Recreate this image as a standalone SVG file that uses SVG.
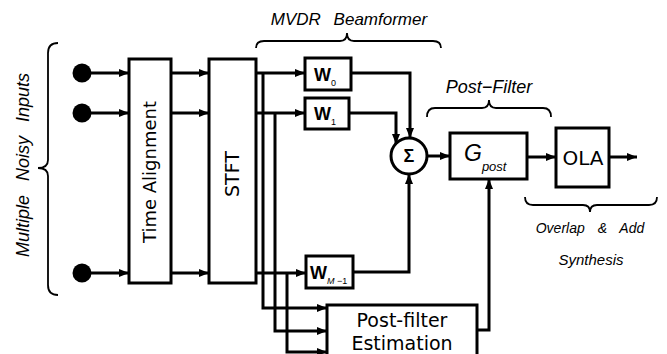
<svg xmlns="http://www.w3.org/2000/svg" width="667" height="354" viewBox="0 0 667 354">
<style>
.box{fill:#fff;stroke:#000;stroke-width:3}
.ln{fill:none;stroke:#000;stroke-width:3}
.br{fill:none;stroke:#000;stroke-width:1.8}
.it{font-family:"Liberation Sans",Arial,sans-serif;font-style:italic;fill:#000}
.lb{font-family:"DejaVu Sans","Liberation Sans",sans-serif;fill:#000}
.w{font-family:"Liberation Sans",Arial,sans-serif;font-weight:bold;fill:#000}
</style>
<defs>
<marker id="ah" markerUnits="userSpaceOnUse" markerWidth="10" markerHeight="10" viewBox="0 0 10 10" refX="10" refY="5" orient="auto">
<path d="M0,1 L10,5 L0,9 Z" fill="#000"/>
</marker>
</defs>
<rect width="667" height="354" fill="#fff"/>

<g id="inputs-label">
<path class="br" d="M58,43 Q48,43 48,53 L48,160 Q48,168 38,168 Q48,168 48,176 L48,285 Q48,295 58,295"/>
<text class="it" font-size="18" word-spacing="9" text-anchor="middle" transform="translate(29,165) rotate(-90)">Multiple Noisy Inputs</text>
</g>
<g id="in0"><circle cx="82" cy="73" r="9.5" fill="#000"/></g>
<g id="in1"><circle cx="82" cy="113" r="9.5" fill="#000"/></g>
<g id="in2"><circle cx="82" cy="273" r="9.5" fill="#000"/></g>

<g id="time-alignment">
<rect class="box" x="129" y="59" width="42" height="224"/>
<text class="lb" font-size="18" text-anchor="middle" transform="translate(156,172) rotate(-90)">Time Alignment</text>
</g>
<g id="stft">
<rect class="box" x="209" y="59" width="47" height="224"/>
<text class="lb" font-size="19" text-anchor="middle" transform="translate(239,174) rotate(-90)">STFT</text>
</g>

<g id="w0">
<rect class="box" x="305" y="58" width="46" height="32"/>
<text class="w" font-size="18" x="314" y="81">W<tspan font-size="9" font-weight="normal" dy="5">0</tspan></text>
</g>
<g id="w1">
<rect class="box" x="305" y="98" width="44" height="31"/>
<text class="w" font-size="18" x="314" y="120">W<tspan font-size="9" font-weight="normal" dy="5">1</tspan></text>
</g>
<g id="wm1">
<rect class="box" x="306" y="256" width="47" height="32"/>
<text class="w" font-size="18" x="310" y="279">W<tspan font-size="9" font-weight="normal" dy="5"><tspan font-style="italic">M</tspan> −1</tspan></text>
</g>

<g id="mvdr-label">
<path class="br" d="M256,48 Q256,41 264,41 L340,41 Q347,41 347,33 Q347,41 354,41 L433,41 Q441,41 441,48"/>
<text class="it" font-size="17" word-spacing="8" x="349" y="25" text-anchor="middle">MVDR Beamformer</text>
</g>

<g id="sum">
<circle cx="409" cy="156" r="18" fill="#fff" stroke="#000" stroke-width="3"/>
<text class="w" font-size="18" x="409" y="162" text-anchor="middle">Σ</text>
</g>

<g id="gpost">
<rect class="box" x="450" y="133" width="77" height="46"/>
<text class="it" font-size="23" x="464" y="161">G<tspan font-size="13" dy="10">post</tspan></text>
</g>
<g id="postfilter-label">
<path class="br" d="M427,117 Q427,108 435,108 L482,108 Q489,108 489,100 Q489,108 496,108 L543,108 Q551,108 551,117"/>
<text class="it" font-size="18" x="489" y="93" text-anchor="middle">Post−Filter</text>
</g>

<g id="ola">
<rect class="box" x="556" y="128" width="53" height="59"/>
<text class="lb" font-size="20" x="583" y="165" text-anchor="middle">OLA</text>
</g>
<g id="ola-label">
<path class="br" d="M525,197 Q525,205 533,205 L583,205 Q590,205 590,212 Q590,205 597,205 L649,205 Q657,205 657,197"/>
<text class="it" font-size="14" word-spacing="9" x="590" y="233" text-anchor="middle">Overlap &amp; Add</text>
<text class="it" font-size="15" x="591" y="265" text-anchor="middle">Synthesis</text>
</g>

<g id="postfilter-estimation">
<rect class="box" x="327" y="305" width="150" height="60"/>
<text class="lb" font-size="19" x="402" y="327" text-anchor="middle">Post-filter</text>
<text class="lb" font-size="19" x="402" y="350" text-anchor="middle">Estimation</text>
</g>

<g id="connectors">
<path class="ln" d="M91,73 L129,73" marker-end="url(#ah)"/>
<path class="ln" d="M91,113 L129,113" marker-end="url(#ah)"/>
<path class="ln" d="M91,273 L129,273" marker-end="url(#ah)"/>
<path class="ln" d="M171,73 L209,73" marker-end="url(#ah)"/>
<path class="ln" d="M171,113 L209,113" marker-end="url(#ah)"/>
<path class="ln" d="M171,273 L209,273" marker-end="url(#ah)"/>
<path class="ln" d="M256,73 L305,73" marker-end="url(#ah)"/>
<path class="ln" d="M256,113 L305,113" marker-end="url(#ah)"/>
<path class="ln" d="M256,273 L306,273" marker-end="url(#ah)"/>
<path class="ln" d="M263,73 L263,308 L327,308" marker-end="url(#ah)"/>
<path class="ln" d="M275,113 L275,331 L327,331" marker-end="url(#ah)"/>
<path class="ln" d="M287,273 L287,352 L327,352" marker-end="url(#ah)"/>
<path class="ln" d="M351,73 L410,73 L410,138" marker-end="url(#ah)"/>
<path class="ln" d="M349,113 L396,113 L396,144" marker-end="url(#ah)"/>
<path class="ln" d="M353,272 L409,272 L409,174" marker-end="url(#ah)"/>
<path class="ln" d="M427,156 L450,156" marker-end="url(#ah)"/>
<path class="ln" d="M527,157 L556,157" marker-end="url(#ah)"/>
<path class="ln" d="M609,157 L637,157" marker-end="url(#ah)"/>
<path class="ln" d="M477,330 L489,330 L489,179" marker-end="url(#ah)"/>
</g>
</svg>
